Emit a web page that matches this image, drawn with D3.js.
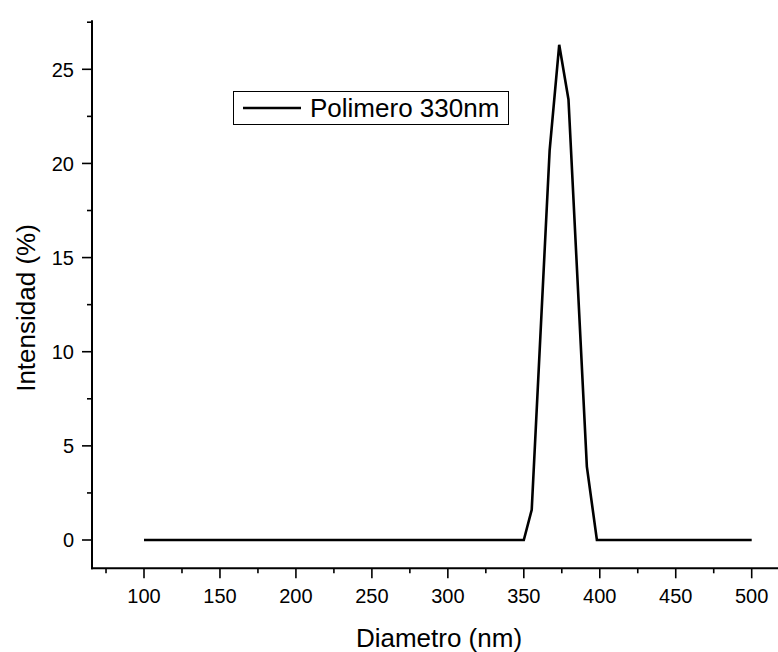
<!DOCTYPE html>
<html>
<head>
<meta charset="utf-8">
<script src="https://cdn.jsdelivr.net/npm/d3@7"></script>
<style>
  html, body { margin: 0; padding: 0; background: #fff; }
  svg { display: block; font-family: "Liberation Sans", Arial, sans-serif; }
</style>
</head>
<body>
<svg id="chart" width="778" height="652"></svg>
<script>
// Size distribution (DLS) of the polymer sample
const diameters = [100, 350, 355.2, 367, 373.3, 379.4, 391.5, 398.1, 500];
const intensity = [0, 0, 1.6, 20.7, 26.3, 23.4, 3.9, 0, 0];
const seriesName = "Polimero 330nm";
const xTicks = [100, 150, 200, 250, 300, 350, 400, 450, 500];
const yTicks = [0, 5, 10, 15, 20, 25];
const xMinor = [75, 125, 175, 225, 275, 325, 375, 425, 475];
const yMinor = [2.5, 7.5, 12.5, 17.5, 22.5, 27.5];

const svg = d3.select("#chart");

const x = d3.scaleLinear().domain([100, 500]).range([144, 751.7]);
const y = d3.scaleLinear().domain([0, 25]).range([540, 69.3]);

const xLeft = 92, yBottom = 568.3, yTop = y(27.6), xRight = 778;

// Axis lines
svg.append("line")
  .attr("x1", xLeft).attr("x2", xLeft)
  .attr("y1", yTop).attr("y2", yBottom + 1)
  .attr("stroke", "#000").attr("stroke-width", 2);
svg.append("line")
  .attr("x1", xLeft - 1).attr("x2", xRight)
  .attr("y1", yBottom).attr("y2", yBottom)
  .attr("stroke", "#000").attr("stroke-width", 2);

// Y ticks
const yAxis = svg.append("g");
yAxis.selectAll(".major").data(yTicks).join("line")
  .attr("x1", xLeft - 10).attr("x2", xLeft)
  .attr("y1", d => y(d)).attr("y2", d => y(d))
  .attr("stroke", "#000").attr("stroke-width", 1.6);
yAxis.selectAll(".minor").data(yMinor).join("line")
  .attr("x1", xLeft - 5).attr("x2", xLeft)
  .attr("y1", d => y(d)).attr("y2", d => y(d))
  .attr("stroke", "#000").attr("stroke-width", 1.6);
yAxis.selectAll("text").data(yTicks).join("text")
  .attr("x", 74).attr("y", d => y(d))
  .attr("dy", "0.36em")
  .attr("text-anchor", "end")
  .attr("font-size", 20)
  .text(d => d);

// X ticks
const xAxis = svg.append("g");
xAxis.selectAll(".major").data(xTicks).join("line")
  .attr("x1", d => x(d)).attr("x2", d => x(d))
  .attr("y1", yBottom).attr("y2", yBottom + 10)
  .attr("stroke", "#000").attr("stroke-width", 1.6);
xAxis.selectAll(".minor").data(xMinor).join("line")
  .attr("x1", d => x(d)).attr("x2", d => x(d))
  .attr("y1", yBottom).attr("y2", yBottom + 5)
  .attr("stroke", "#000").attr("stroke-width", 1.6);
xAxis.selectAll("text").data(xTicks).join("text")
  .attr("x", d => x(d)).attr("y", 603)
  .attr("text-anchor", "middle")
  .attr("font-size", 20)
  .text(d => d);

// Axis titles
svg.append("text")
  .attr("x", 439).attr("y", 647)
  .attr("text-anchor", "middle")
  .attr("font-size", 26)
  .text("Diametro (nm)");
svg.append("text")
  .attr("transform", "translate(35,308) rotate(-90)")
  .attr("text-anchor", "middle")
  .attr("font-size", 26)
  .text("Intensidad (%)");

// Data line
const pts = diameters.map((d, i) => [d, intensity[i]]);
svg.append("path")
  .datum(pts)
  .attr("fill", "none")
  .attr("stroke", "#000")
  .attr("stroke-width", 2.6)
  .attr("stroke-linejoin", "miter")
  .attr("d", d3.line().x(d => x(d[0])).y(d => y(d[1])));

// Legend
const legend = svg.append("g");
legend.append("rect")
  .attr("x", 233.5).attr("y", 91.5)
  .attr("width", 275).attr("height", 33)
  .attr("fill", "#fff").attr("stroke", "#000").attr("stroke-width", 1);
legend.append("line")
  .attr("x1", 243).attr("x2", 301)
  .attr("y1", 108).attr("y2", 108)
  .attr("stroke", "#000").attr("stroke-width", 2.6);
legend.append("text")
  .attr("x", 310).attr("y", 108)
  .attr("dy", "0.36em")
  .attr("font-size", 26)
  .text(seriesName);
</script>
</body>
</html>
